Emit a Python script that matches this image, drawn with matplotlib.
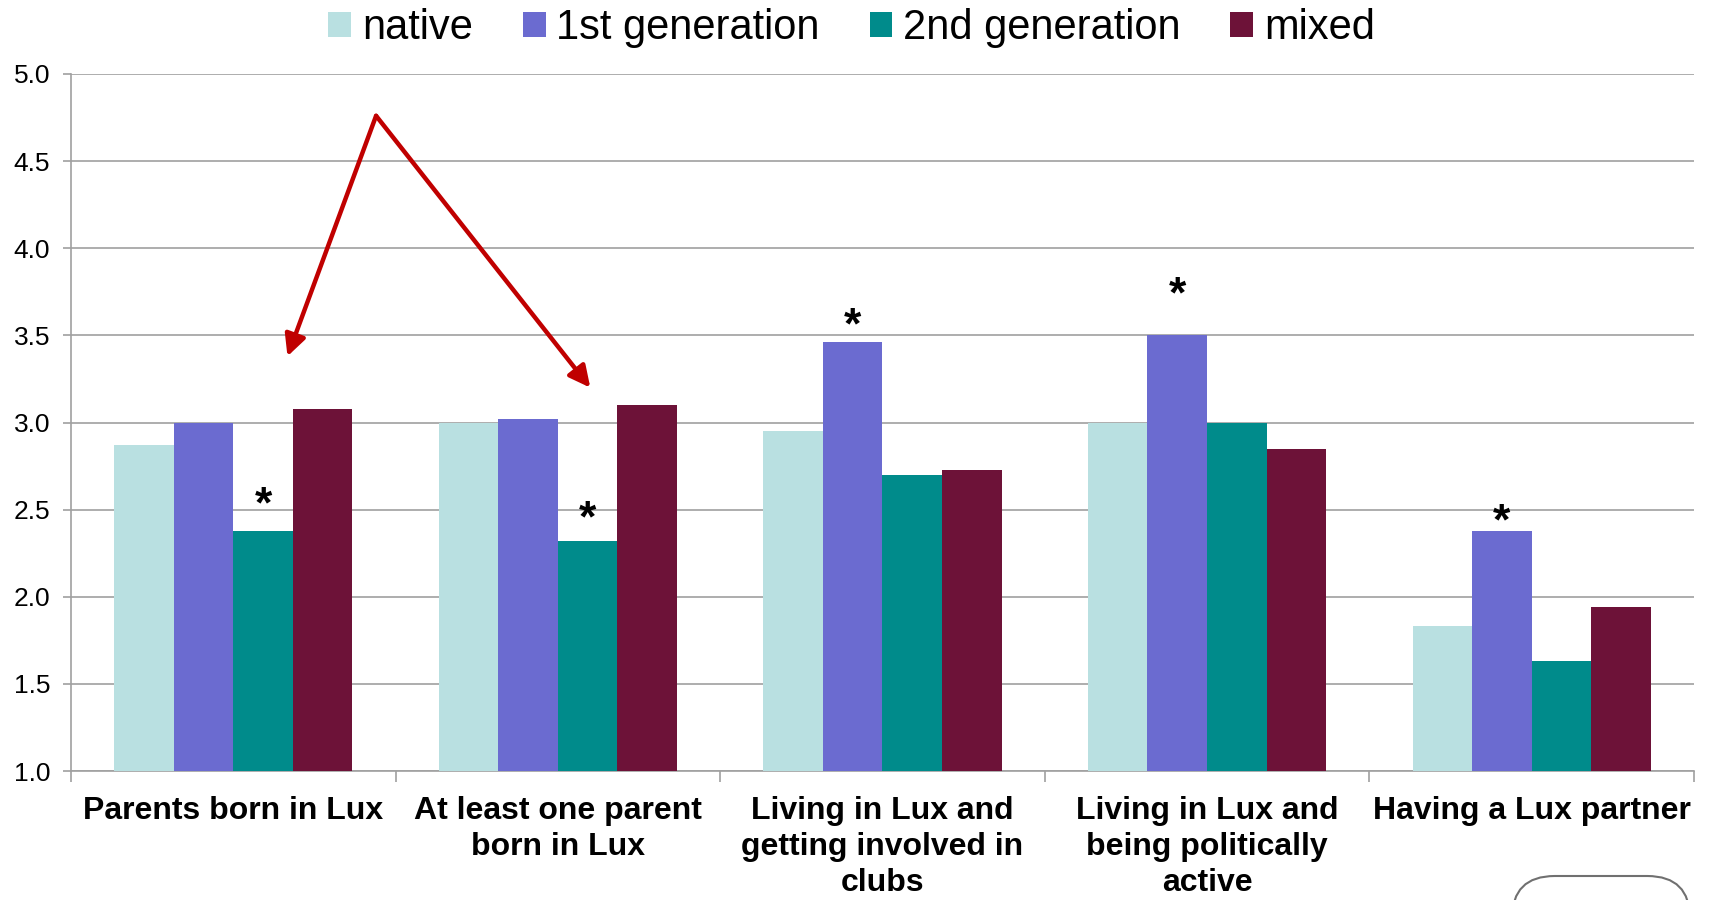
import matplotlib
matplotlib.use("Agg")
import matplotlib.pyplot as plt
import numpy as np
from matplotlib.patches import FancyBboxPatch

plt.rcParams['font.family'] = ['Liberation Sans', 'DejaVu Sans']

categories = [
    "Parents born in Lux",
    "At least one parent\nborn in Lux",
    "Living in Lux and\ngetting involved in\nclubs",
    "Living in Lux and\nbeing politically\nactive",
    "Having a Lux partner",
]
series_names = ["native", "1st generation", "2nd generation", "mixed"]
native = [2.87, 3.00, 2.95, 3.00, 1.83]
first_gen = [3.00, 3.02, 3.46, 3.50, 2.38]
second_gen = [2.38, 2.32, 2.70, 3.00, 1.63]
mixed = [3.08, 3.10, 2.73, 2.85, 1.94]
colors = ["#B9E0E1", "#6B6BD0", "#008B8B", "#6D1238"]

# significance markers: (category index, series index, height above bar)
stars = [(0, 2, 0.14), (1, 2, 0.12), (2, 1, 0.09), (3, 1, 0.225), (4, 1, 0.045)]

# red arrows pointing from a common apex to two groups
arrow_apex = (0.44, 4.76)
arrow_tips = [(0.167, 3.38), (1.10, 3.20)]

values = [native, first_gen, second_gen, mixed]
fig = plt.figure(figsize=(17.1, 9.0), dpi=100)
ax = fig.add_axes([0.0415, 0.1433, 0.9491, 0.7745])

x = np.arange(len(categories))
bw = 0.1835
for i, (vals, name, c) in enumerate(zip(values, series_names, colors)):
    ax.bar(x + (i - 1.5) * bw, vals, width=bw, color=c, label=name, zorder=3,
           linewidth=0)

for ci, si, off in stars:
    ax.text(x[ci] + (si - 1.5) * bw, values[si][ci] + off, "*",
            ha="center", va="center", fontsize=32, fontweight="bold", zorder=5)

for tip in arrow_tips:
    ax.annotate("", xy=tip, xytext=arrow_apex,
                arrowprops=dict(arrowstyle="-|>", color="#C00000", lw=3.2,
                                mutation_scale=32, shrinkA=0, shrinkB=0),
                zorder=6)

ax.set_xlim(-0.5, len(categories) - 0.5)
ax.set_ylim(1.0, 5.0)
ax.set_yticks(np.arange(1.0, 5.01, 0.5))
ax.set_yticklabels([f"{v:.1f}" for v in np.arange(1.0, 5.01, 0.5)])
ax.grid(axis="y", color="#A0A0A0", linewidth=1.2, zorder=0)
ax.set_axisbelow(True)

ax.set_xticks(x)
ax.set_xticklabels(categories, fontsize=23, fontweight="bold", linespacing=1.27)
ax.set_xticks(np.arange(-0.5, len(categories), 1.0), minor=True)
ax.tick_params(axis="x", which="major", length=0, pad=18)
ax.tick_params(axis="x", which="minor", length=8, color="#A0A0A0", width=1.2)
ax.tick_params(axis="y", length=6, color="#A0A0A0", width=1.2, labelsize=19, pad=9)

for s in ["top", "right"]:
    ax.spines[s].set_visible(False)
for s in ["left", "bottom"]:
    ax.spines[s].set_color("#A0A0A0")
    ax.spines[s].set_linewidth(1.2)

leg = fig.legend(loc="upper center", bbox_to_anchor=(0.498, 1.033), ncol=4,
                 frameon=False, fontsize=30, handlelength=0.55, handleheight=0.55,
                 handletextpad=0.25, columnspacing=1.2)

box = FancyBboxPatch((1512 / 1710, -0.05), 178 / 1710, (900 - 876) / 900 + 0.05,
                     boxstyle="round,pad=0,rounding_size=0.025",
                     transform=fig.transFigure, facecolor="white",
                     edgecolor="#707070", linewidth=1.5, mutation_aspect=1710 / 900)
fig.patches.append(box)

fig.savefig("out.png", dpi=100)
